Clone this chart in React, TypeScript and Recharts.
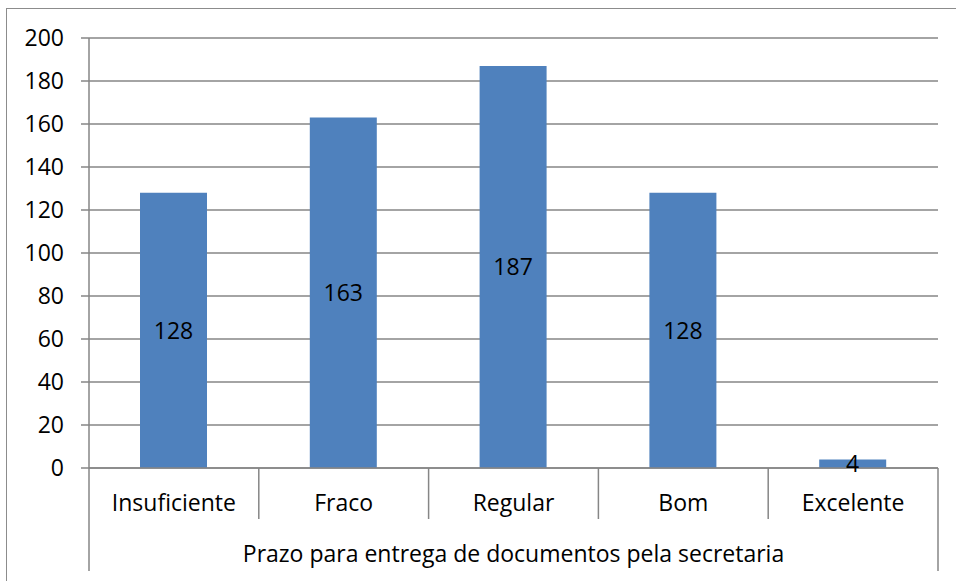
import React from 'react';
import { BarChart, Bar, XAxis, YAxis, CartesianGrid, LabelList } from 'recharts';

const categories = ['Insuficiente', 'Fraco', 'Regular', 'Bom', 'Excelente'];
const counts = [128, 163, 187, 128, 4];
const yTicks = [0, 20, 40, 60, 80, 100, 120, 140, 160, 180, 200];
const groupLabel = 'Prazo para entrega de documentos pela secretaria';

const FONT = '"Open Sans", Lato, sans-serif';
const FS = 23;
const GRID = '#868686';

const data = categories.map((name, i) => ({ name, value: counts[i] }));

const CategoryTick = (props: any) => {
  const { x, y, payload, index, width, visibleTicksCount } = props;
  const band = width / visibleTicksCount;
  const last = index === visibleTicksCount - 1;
  const right = x + band / 2;
  const left = x - band / 2;
  return (
    <g>
      {index === 0 && <line x1={left} x2={left} y1={y} y2={y + 103} stroke={GRID} strokeWidth={1.5} />}
      <line x1={right} x2={right} y1={y} y2={last ? y + 103 : y + 51} stroke={GRID} strokeWidth={1.5} />
      <text x={x} y={y + 43} textAnchor="middle" fill="#000" fontSize={FS} fontFamily={FONT}>
        {payload.value}
      </text>
      {index === 2 && (
        <text x={x} y={y + 94} textAnchor="middle" fill="#000" fontSize={FS} fontFamily={FONT}>
          {groupLabel}
        </text>
      )}
    </g>
  );
};

export default function App() {
  return (
    <div style={{ position: 'absolute', left: 0, top: 0, width: 956, height: 581, background: '#fff', overflow: 'hidden' }}>
      <div
        style={{
          position: 'absolute',
          left: 6,
          top: 8,
          width: 1000,
          height: 600,
          borderTop: '1.5px solid #8c8c8c',
          borderLeft: '1.5px solid #8c8c8c',
        }}
      />
      <BarChart
        width={956}
        height={581}
        data={data}
        margin={{ top: 38, right: 18, left: 9, bottom: 0 }}
        style={{ position: 'absolute', left: 0, top: 0 }}
      >
        <CartesianGrid vertical={false} stroke={GRID} strokeWidth={1.5} />
        <XAxis
          dataKey="name"
          height={113}
          tickLine={false}
          tickSize={0}
          tickMargin={0}
          axisLine={{ stroke: GRID, strokeWidth: 1.5 }}
          tick={<CategoryTick />}
          interval={0}
        />
        <YAxis
          width={80}
          domain={[0, 200]}
          ticks={yTicks}
          tickSize={8}
          tickMargin={17}
          axisLine={{ stroke: GRID, strokeWidth: 1.5 }}
          tickLine={{ stroke: GRID, strokeWidth: 1.5 }}
          tick={{ fill: '#000', fontSize: FS, fontFamily: FONT }}
        />
        <Bar dataKey="value" fill="#4F81BD" barSize={67} isAnimationActive={false}>
          <LabelList dataKey="value" position="center" fill="#000" fontSize={FS} fontFamily={FONT} />
        </Bar>
      </BarChart>
    </div>
  );
}
